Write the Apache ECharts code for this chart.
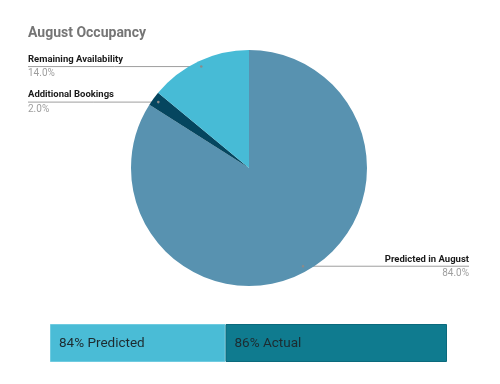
<!DOCTYPE html>
<html>
<head>
<meta charset="utf-8">
<script src="https://cdn.jsdelivr.net/npm/echarts@6/dist/echarts.min.js"></script>
<style>
html,body{margin:0;padding:0;background:#fff;}
#c{width:500px;height:384px;}
</style>
</head>
<body>
<div id="c"></div>
<script>
// ---- data ----
var titleText = 'August Occupancy';
var sliceNames = ['Predicted in August', 'Additional Bookings', 'Remaining Availability'];
var sliceValues = [84, 2, 14];
var sliceColors = ['#5892b0', '#05465f', '#47bbd6'];
var kpiLabels = ['84% Predicted', '86% Actual'];
var kpiColors = ['#4abcd6', '#0f7b8f'];
var kpiBorders = ['#6fcbe0', '#0b6a7d'];

// ---- layout ----
var CX = 249, CY = 168, R = 118;
var LEFT_EDGE = 28, RIGHT_EDGE = 469;

var total = sliceValues.reduce(function (a, b) { return a + b; }, 0);
function dotPoint(i) {
  var cum = 0;
  for (var k = 0; k < i; k++) cum += sliceValues[k];
  var mid = (cum + sliceValues[i] / 2) / total * Math.PI * 2;
  return [CX + 0.95 * R * Math.sin(mid), CY - 0.95 * R * Math.cos(mid), Math.sin(mid)];
}

var chart = echarts.init(document.getElementById('c'), null, {renderer: 'canvas'});

var data = sliceNames.map(function (n, i) {
  return { name: n, value: sliceValues[i], itemStyle: { color: sliceColors[i] } };
});

var graphics = [];
// dots at label line ends
sliceValues.forEach(function (v, i) {
  var p = dotPoint(i);
  graphics.push({
    type: 'circle', z: 100,
    shape: { cx: p[0], cy: p[1], r: 1.3 },
    style: { fill: '#8a8a8a' }
  });
});
// KPI strip
var stripX = 50, stripY = 324, stripH = 37, splitX = 225.5, stripEnd = 447;
var segs = [[stripX, splitX], [splitX, stripEnd]];
kpiLabels.forEach(function (t, i) {
  graphics.push({
    type: 'rect',
    shape: { x: segs[i][0] + 0.5, y: stripY + 0.5, width: segs[i][1] - segs[i][0] - 1, height: stripH },
    style: { fill: kpiColors[i], stroke: kpiBorders[i], lineWidth: 1 }
  });
  graphics.push({
    type: 'text',
    x: segs[i][0] + 9, y: stripY + stripH / 2 + 1,
    style: {
      text: t, fill: '#1d2b30', font: '13.5px Roboto',
      verticalAlign: 'middle', align: 'left'
    }
  });
});

chart.setOption({
  backgroundColor: '#ffffff',
  animation: false,
  title: {
    text: titleText, left: 23, top: 21,
    textStyle: { fontFamily: 'Roboto', fontSize: 14, fontWeight: 'bold', color: '#757575' }
  },
  graphic: graphics,
  series: [{
    type: 'pie',
    center: [CX, CY],
    radius: R,
    startAngle: 90,
    clockwise: true,
    avoidLabelOverlap: false,
    data: data,
    itemStyle: { borderWidth: 0 },
    emphasis: { disabled: true },
    label: {
      show: true,
      position: 'outside',
      formatter: function (p) {
        return '{n|' + p.name + '}\n{p|' + p.value.toFixed(1) + '%}';
      },
      rich: {
        n: { fontFamily: 'Roboto', fontSize: 9.5, fontWeight: 'bold', color: '#1a1a1a', lineHeight: 14 },
        p: { fontFamily: 'Roboto', fontSize: 10, color: '#9e9e9e', lineHeight: 14 }
      }
    },
    labelLine: {
      show: true,
      lineStyle: { color: '#9e9e9e', width: 1 }
    },
    labelLayout: function (params) {
      var p = dotPoint(params.dataIndex);
      var left = p[2] < 0;
      var ex = left ? LEFT_EDGE : RIGHT_EDGE;
      return {
        x: ex,
        y: p[1],
        align: left ? 'left' : 'right',
        verticalAlign: 'middle',
        labelLinePoints: [[p[0], p[1]], [(p[0] + ex) / 2, p[1]], [ex, p[1]]]
      };
    }
  }]
});
</script>
</body>
</html>
